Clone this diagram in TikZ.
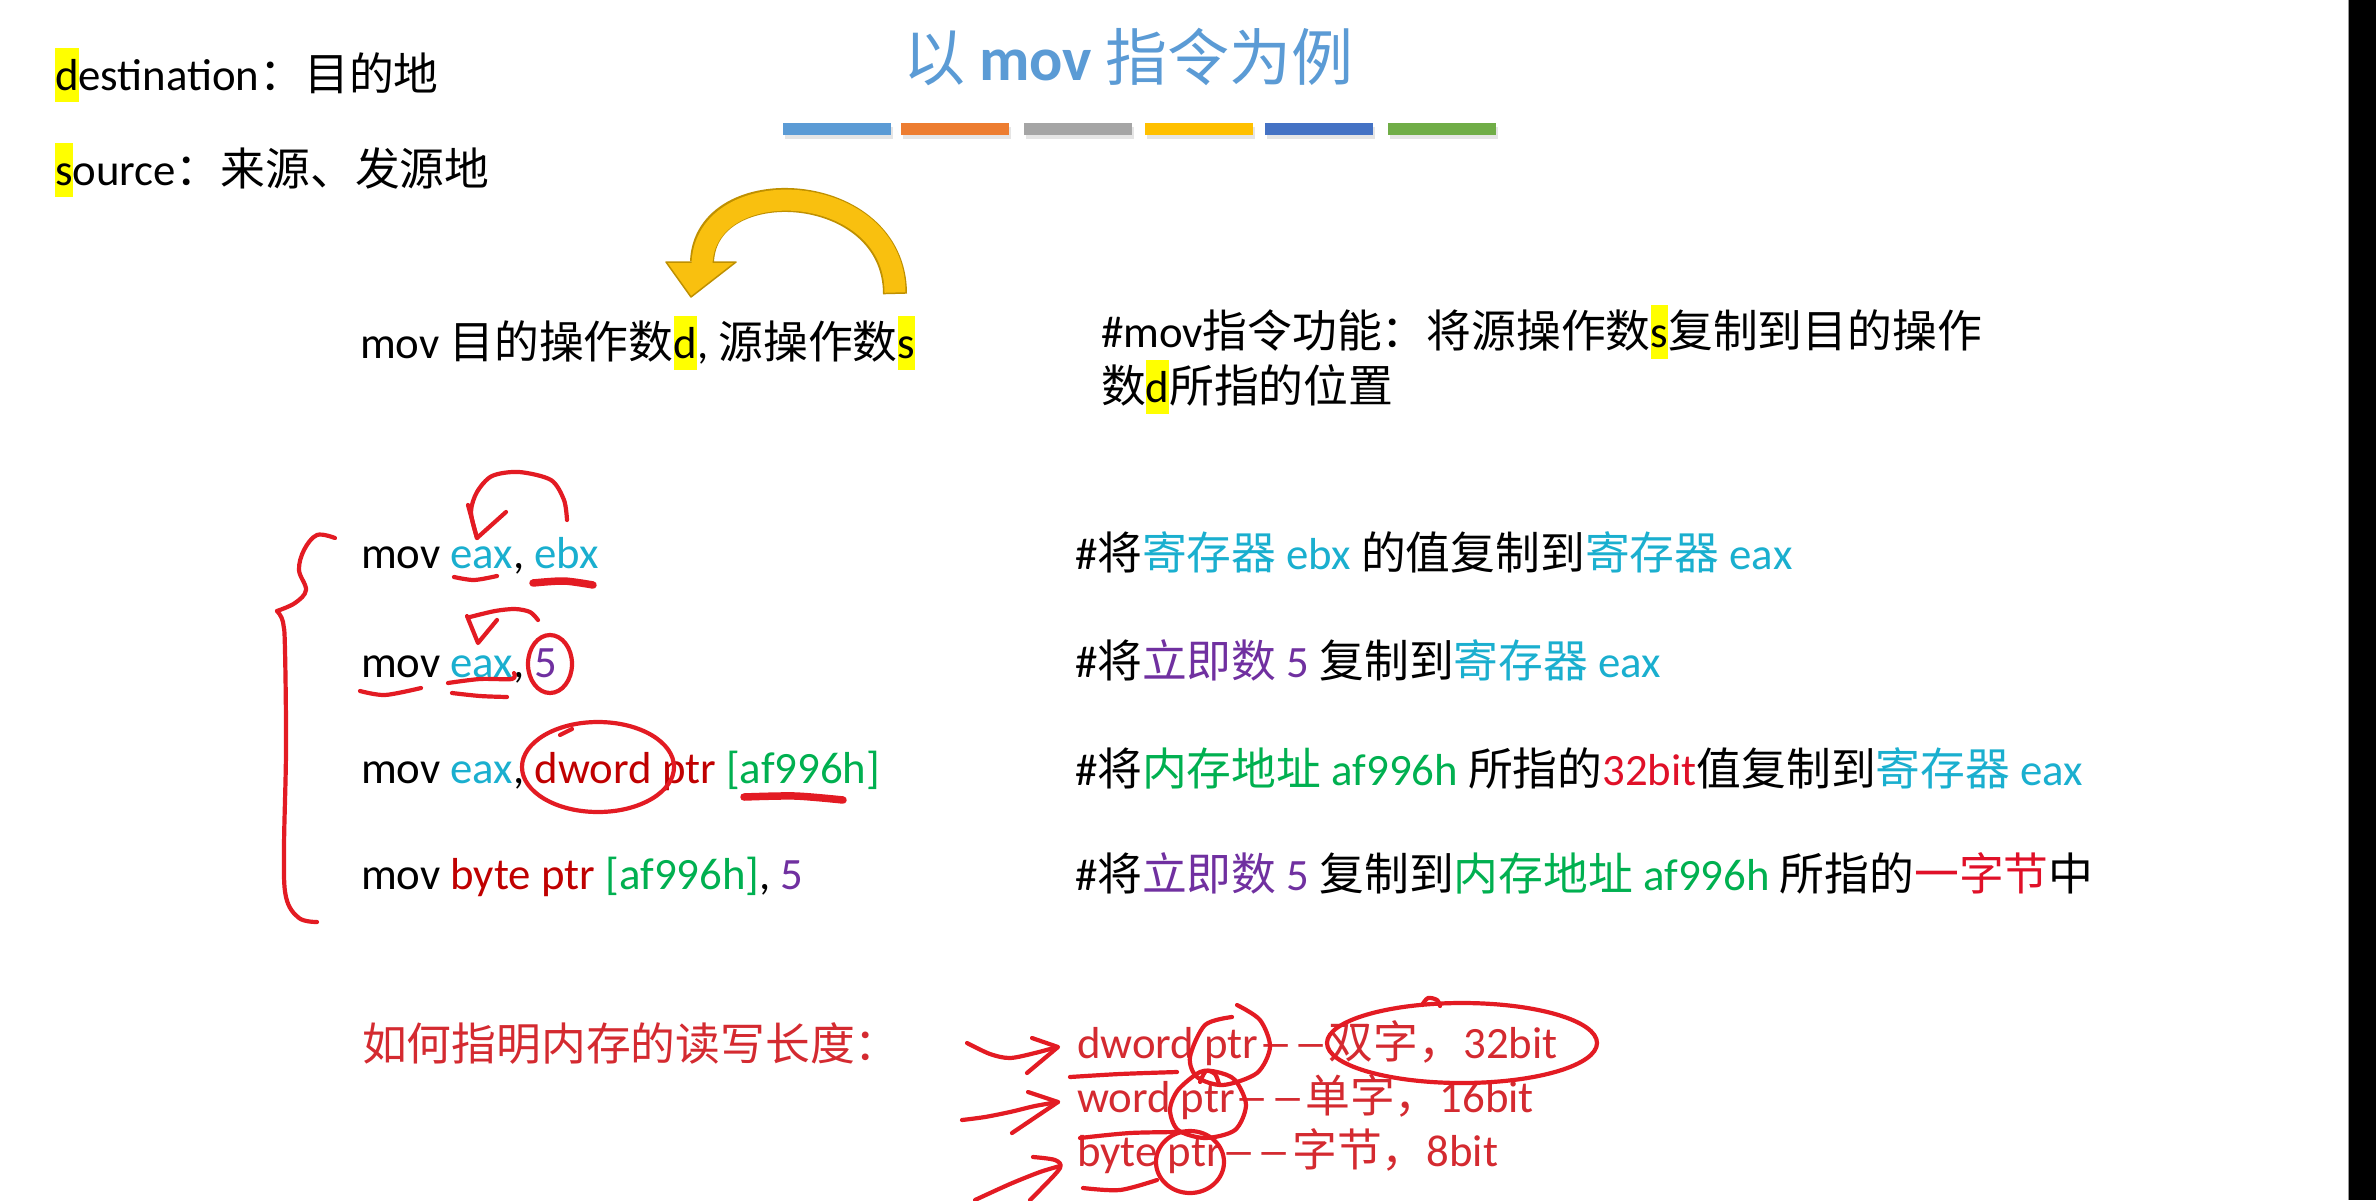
\documentclass[tikz,border=0pt]{standalone}
\usepackage{fontspec}
\usepackage{graphicx}
\setmainfont{Carlito}
\newfontfamily\cjk{Noto Sans CJK SC}
\definecolor{hly}{HTML}{FFFF00}
\definecolor{tblue}{HTML}{5B9BD5}
\definecolor{bblue}{HTML}{5B9BD5}
\definecolor{borange}{HTML}{ED7D31}
\definecolor{bgray}{HTML}{A5A5A5}
\definecolor{byellow}{HTML}{FFC000}
\definecolor{bdblue}{HTML}{4472C4}
\definecolor{bgreen}{HTML}{70AD47}
\definecolor{arrowy}{HTML}{F9C00F}
\definecolor{arrowd}{HTML}{BF9000}
\definecolor{cy}{HTML}{1AAFCF}
\definecolor{pu}{HTML}{7030A0}
\definecolor{rd}{HTML}{C00000}
\definecolor{rd2}{HTML}{E01028}
\definecolor{gr}{HTML}{00B050}
\definecolor{hand}{HTML}{E31B23}
\definecolor{rtext}{HTML}{D42A30}
\newcommand\Z[1]{{\cjk#1}}
\newcommand\hl[1]{{\setlength\fboxsep{0pt}\colorbox{hly}{\rule[-12pt]{0pt}{54pt}#1}}}
\newcommand\dd{\kern4pt\Z{\scalebox{0.68}[1]{—}\kern8pt\scalebox{0.68}[1]{—}}\kern4pt}
\begin{document}
\begin{tikzpicture}[x=1pt,y=-1pt,
  txt/.style={anchor=base west, inner sep=0pt, outer sep=0pt, font=\fontsize{44.8}{53}\selectfont},
  hand/.style={draw=hand, line width=4.2pt, line cap=round, line join=round},
  thickhand/.style={hand, line width=7.5pt}]
\useasboundingbox (0,0) rectangle (2376,1200);
\fill[white] (0,0) rectangle (2376,1200);
\fill[black] (2349,0) rectangle (2376,1200);
\draw[black!40, line width=1pt] (2348.5,0) -- (2348.5,1200);

% title and colour bars
\node[txt, font=\fontsize{62}{74}\selectfont, text=tblue] (title) at (903,80) {\Z{以} \textbf{mov} \Z{指令为例}};
\foreach \x/\c in {783/bblue,901/borange,1024/bgray,1145/byellow,1265/bdblue,1388/bgreen}{
  \fill[black!10] (\x+2,127) rectangle (\x+110,139);
  \fill[\c] (\x,123) rectangle (\x+108,135);
}

% definitions
\node[txt] (dest) at (55,90) {\hl{d}estination\Z{：目的地}};
\node[txt] (src) at (55,185) {\hl{s}ource\Z{：来源、发源地}};

% syntax line and yellow arrow
\node[txt] (syntax) at (360,358) {mov \Z{目的操作数}\hl{d}, \Z{源操作数}\hl{s}};
\draw[draw=arrowd, line width=24pt] (895,294) .. controls (895,180) and (705,170) .. (702,262);
\filldraw[fill=arrowy, draw=arrowd, line width=1.5pt, line join=round] (666,262) -- (736,262) -- (691,297) -- cycle;
\draw[draw=arrowy, line width=21pt] (895,292.5) .. controls (895,180) and (705,170) .. (702,264);

\node[txt] (func1) at (1101,347) {\#mov\Z{指令功能：将源操作数}\hl{s}\Z{复制到目的操作}};
\node[txt] (func2) at (1101,402) {\Z{数}\hl{d}\Z{所指的位置}};

% code lines
\node[txt] (c1) at (361,568) {mov \textcolor{cy}{eax}, \textcolor{cy}{ebx}};
\node[txt] (c2) at (361,677) {mov \textcolor{cy}{eax}, \textcolor{pu}{5}};
\node[txt] (c3) at (361,783) {mov \textcolor{cy}{eax}, \textcolor{rd}{dword ptr} \textcolor{gr}{[af996h]}};
\node[txt] (c4) at (361,889) {mov \textcolor{rd}{byte ptr} \textcolor{gr}{[af996h]}, \textcolor{pu}{5}};

% comments
\node[txt] (m1) at (1075,569) {\#\Z{将}\textcolor{cy}{\Z{寄存器} ebx} \Z{的值复制到}\textcolor{cy}{\Z{寄存器} eax}};
\node[txt] (m2) at (1075,677) {\#\Z{将}\textcolor{pu}{\Z{立即数} 5} \Z{复制到}\textcolor{cy}{\Z{寄存器} eax}};
\node[txt] (m3) at (1075,785) {\#\Z{将}\textcolor{gr}{\Z{内存地址} af996h} \Z{所指的}\textcolor{rd2}{32bit}\Z{值复制到}\textcolor{cy}{\Z{寄存器} eax}};
\node[txt] (m4) at (1075,890) {\#\Z{将}\textcolor{pu}{\Z{立即数} 5} \Z{复制到}\textcolor{gr}{\Z{内存地址} af996h} \Z{所指的}\textcolor{rd2}{\Z{一字节}}\Z{中}};

% bottom
\node[txt, text=rtext] (how) at (362,1060) {\Z{如何指明内存的读写长度：}};
\node[txt, text=rtext] (dw) at (1077,1058) {dword ptr\dd\Z{双字，}32bit};
\node[txt, text=rtext] (w) at (1077,1112) {word ptr\dd\Z{单字，}16bit};
\node[txt, text=rtext] (b) at (1077,1166) {byte ptr\dd\Z{字节，}8bit};

% handwritten brace
\draw[hand] plot[smooth, tension=0.6] coordinates {(335,538) (317,535) (304,550) (299,570) (306,590) (295,603) (277,611)};
\draw[hand] plot[smooth, tension=0.6] coordinates {(277,611) (283,622) (285,650) (286,750) (284,850) (286,897) (299,918) (317,922)};

% line 1 marks
\draw[hand] plot[smooth] coordinates {(567,520) (564,500) (551,480) (519,472) (492,476) (477,492) (471,512) (477,538)};
\draw[hand] (468,505) -- (477,538) -- (506,512);
\draw[hand] plot[smooth] coordinates {(454,577) (474,580) (497,576)};
\draw[thickhand] plot[smooth] coordinates {(533,583) (564,581) (593,585)};

% line 2 marks
\draw[hand] plot[smooth] coordinates {(538,620) (530,612) (515,609) (495,611) (470,617)};
\draw[hand] (467,616) -- (478,643) -- (497,620);
\draw[hand] (550,664) ellipse [x radius=22pt, y radius=29pt];
\draw[hand] plot[smooth] coordinates {(360,691) (385,695) (421,688)};
\draw[hand] plot[smooth] coordinates {(448,683) (480,679) (512,679) (514,673)};
\draw[hand] plot[smooth] coordinates {(452,693) (480,696) (507,697)};

% line 3 marks
\draw[hand] (598,767) ellipse [x radius=76pt, y radius=45pt];
\draw[hand] (560,735) -- (572,729);
\draw[thickhand] plot[smooth] coordinates {(744,797) (795,796) (843,800)};

% bottom marks: arrows
\draw[hand] plot[smooth] coordinates {(967,1043) (990,1054) (1010,1058) (1035,1053) (1057,1047)};
\draw[hand] (1032,1038) -- (1058,1047) -- (1027,1073);
\draw[hand] plot[smooth] coordinates {(962,1120) (985,1117) (1010,1112) (1035,1106) (1058,1102)};
\draw[hand] (1028,1092) -- (1058,1102) -- (1012,1133);
\draw[hand] plot[smooth] coordinates {(975,1200) (1010,1184) (1040,1172) (1060,1166)};
\draw[hand] plot[smooth] coordinates {(1033,1157) (1055,1160) (1060,1168) (1040,1190) (1030,1200)};

% bottom marks: underlines and circles
\draw[hand] plot[smooth] coordinates {(1070,1077) (1120,1074) (1177,1072)};
\draw[hand] plot[smooth] coordinates {(1232,1017) (1205,1025) (1190,1057) (1197,1077) (1223,1085) (1257,1073) (1270,1047) (1260,1020) (1237,1005)};
\draw[hand] plot[smooth cycle] coordinates {(1200,1072) (1178,1090) (1170,1110) (1178,1130) (1205,1138) (1235,1130) (1246,1105) (1235,1080) (1217,1072)};
\draw[hand] plot[smooth] coordinates {(1200,1082) (1206,1071) (1215,1074) (1219,1084)};
\draw[hand] (1190,1162) ellipse [x radius=34pt, y radius=31pt];
\draw[hand] plot[smooth] coordinates {(1080,1138) (1130,1133) (1183,1132)};
\draw[hand] plot[smooth] coordinates {(1083,1188) (1120,1190) (1157,1180)};
\draw[hand] (1462,1043) ellipse [x radius=135pt, y radius=40pt];
\draw[hand] plot[smooth] coordinates {(1422,1005) (1428,998) (1437,1000) (1440,1006)};
\end{tikzpicture}
\end{document}
